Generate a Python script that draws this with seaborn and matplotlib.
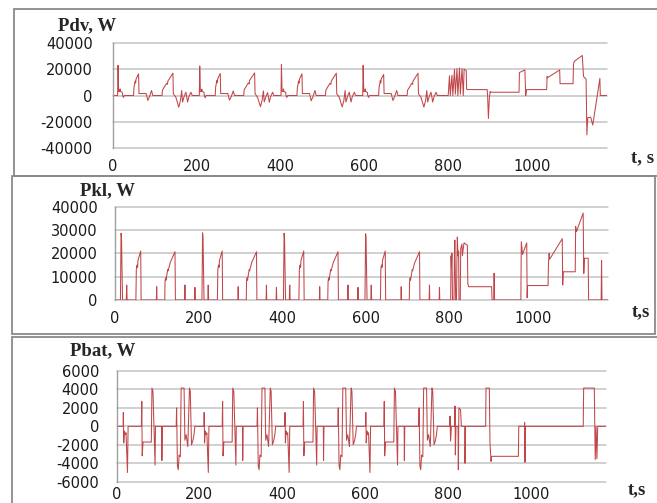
import matplotlib
matplotlib.use('Agg')
import matplotlib.pyplot as plt
import seaborn as sns
from matplotlib.patches import Rectangle

sns.set_style('white')
plt.rcParams['font.family'] = ['DejaVu Sans']

# Data: time in s, power in W (4 urban cycles + extra-urban part)
pdv_t = [0, 11, 12, 13.5, 16, 17, 18, 22, 23, 25, 27, 49, 50, 53, 54, 55, 61, 62, 79, 83, 87, 92, 95,
         117, 118, 122, 128, 130, 131, 143, 144, 150, 157, 161, 164, 166, 170, 174, 178, 181, 186, 189,
         206, 207, 208.5, 211, 212, 213, 217, 218, 220, 222, 244, 245, 248, 249, 250, 256, 257, 274, 278, 282, 287, 290,
         312, 313, 317, 323, 325, 326, 338, 339, 345, 352, 356, 359, 361, 365, 369, 373, 376, 381, 384,
         401, 402, 403.5, 406, 407, 408, 412, 413, 415, 417, 439, 440, 443, 444, 445, 451, 452, 469, 473, 477, 482, 485,
         507, 508, 512, 518, 520, 521, 533, 534, 540, 547, 551, 554, 556, 560, 564, 568, 571, 576, 579,
         596, 597, 598.5, 601, 602, 603, 607, 608, 610, 612, 634, 635, 638, 639, 640, 646, 647, 664, 668, 672, 677, 680,
         702, 703, 707, 713, 715, 716, 728, 729, 735, 742, 746, 749, 751, 755, 759, 763, 766, 771, 774,
         800, 803, 805, 809, 811, 815, 817, 821, 823, 827, 829, 833, 836, 838, 843, 844, 846, 893, 894, 896,
         898, 900, 901, 969, 970, 983, 985, 987, 1035, 1036, 1037, 1066, 1067, 1098, 1099, 1101, 1120, 1123, 1129, 1131,
         1133, 1140, 1145, 1162, 1163, 1180]
pdv_w = [0, 0, 23000, 3000, 3000, 5000, 3000, 2500, 0, -1500, 0, 0, 6000, 11000, 9500, 12500, 16500, 1500, 1500, -3800, -1000, 3800, 0,
         0, 4000, 6300, 9300, 8500, 11000, 17000, 1300, -1300, -8900, -3800, 3800, -5000, -500, 2500, -5000, -1000, 2500, 0,
         0, 22500, 3000, 3200, 4800, 3000, 2500, 0, -1800, 0, 0, 6500, 11500, 9800, 12800, 16800, 1500, 1500, -3500, -1000, 3500, 0,
         0, 4200, 6500, 9500, 8800, 11500, 17200, 1500, -1500, -8500, -3500, 3500, -4800, -800, 2200, -5200, -1000, 2500, 0,
         0, 23500, 3200, 3000, 5000, 3000, 2500, 0, -1500, 0, 0, 6000, 11000, 9500, 12500, 16500, 1500, 1500, -4000, -1000, 3800, 0,
         0, 4000, 6300, 9300, 8500, 11000, 17000, 1300, -1300, -8700, -3800, 3800, -5000, -500, 2500, -5000, -1000, 2500, 0,
         0, 23000, 3000, 3000, 5000, 3000, 2500, 0, -1500, 0, 0, 6000, 11500, 9500, 12500, 16000, 1500, 1500, -3800, -1000, 3800, 0,
         0, 4000, 6000, 9300, 8500, 11000, 17000, 1300, -1300, -8900, -3800, 3800, -5000, -500, 2500, -5000, -1000, 2500, 0,
         0, 15000, 0, 15500, 0, 20000, 1000, 20500, 0, 21000, 1000, 20500, 0, 20000, 19000, 5000, 4500, 4500, 0, -17500,
         -3000, 3000, 2500, 2500, 17500, 19500, 0, 4500, 4500, 14500, 13500, 19500, 9000, 9000, 24000, 26000, 30500, 14500, 12500, -30000,
         -17000, -16500, -22500, 13000, 0, 0]

pkl_t = [0, 13, 14.5, 15.5, 18, 27, 28, 29, 50, 51, 52, 53, 54, 55, 61.5, 62.5, 99, 99.7, 100.5,
         119, 119.7, 121, 122, 126, 127, 132, 143.5, 144.5, 166.5, 167.3, 168, 190.5, 191.2, 192,
         208, 209.5, 210.5, 213, 222, 223, 224, 245, 246, 247, 248, 249, 250, 256.5, 257.5, 294, 294.7, 295.5,
         314, 314.7, 316, 317, 321, 322, 327, 338.5, 339.5, 361.5, 362.3, 363, 385.5, 386.2, 387,
         403, 404.5, 405.5, 408, 417, 418, 419, 440, 441, 442, 443, 444, 445, 451.5, 452.5, 489, 489.7, 490.5,
         509, 509.7, 511, 512, 516, 517, 522, 533.5, 534.5, 556.5, 557.3, 558, 580.5, 581.2, 582,
         598, 599.5, 600.5, 603, 612, 613, 614, 635, 636, 637, 638, 639, 640, 646.5, 647.5, 684, 684.7, 685.5,
         704, 704.7, 706, 707, 711, 712, 717, 728.5, 729.5, 751.5, 752.3, 753, 775.5, 776.2, 777,
         803, 804, 805, 806, 807.5, 811, 812, 813, 815, 817, 818, 819, 820.5, 822, 823, 826, 827, 830, 831, 835,
         843, 844, 846, 901, 902, 906, 907, 908, 971, 972, 975, 985, 986, 987, 1036, 1037, 1038.5, 1040, 1070, 1071,
         1072.5, 1101, 1102, 1104, 1120, 1121.5, 1123, 1132, 1133, 1163, 1164, 1165, 1180]
pkl_w = [0, 0, 28600, 27000, 0, 0, 6400, 0, 0, 13000, 14500, 15000, 14000, 17000, 21000, 0, 0, 5700, 0,
         0, 7900, 9500, 8500, 13000, 12500, 16000, 20700, 0, 0, 6400, 0, 0, 5400, 0,
         0, 28800, 27000, 0, 0, 6400, 0, 0, 13000, 14500, 15000, 14000, 17000, 21000, 0, 0, 5700, 0,
         0, 7900, 9500, 8500, 13000, 12500, 16000, 20700, 0, 0, 6400, 0, 0, 5400, 0,
         0, 28600, 27000, 0, 0, 6400, 0, 0, 13000, 14500, 15000, 14000, 17000, 21000, 0, 0, 5700, 0,
         0, 7900, 9500, 8500, 13000, 12500, 16000, 20700, 0, 0, 6400, 0, 0, 5400, 0,
         0, 28400, 27000, 0, 0, 6400, 0, 0, 13000, 14500, 15000, 14000, 17000, 21000, 0, 0, 5700, 0,
         0, 7900, 9500, 8500, 13000, 12500, 16000, 20700, 0, 0, 6400, 0, 0, 5400, 0,
         0, 19000, 14000, 20000, 0, 0, 18000, 25700, 0, 0, 17000, 27000, 19000, 21000, 0, 0, 22000, 24000, 19000, 24500,
         23500, 7000, 5700, 5700, 0, 0, 11500, 0, 0, 25000, 19500, 24500, 1000, 6200, 6200, 15700, 20000, 17500, 26300, 6400,
         12100, 12100, 31500, 29300, 37300, 11400, 17900, 17900, 0, 0, 17000, 0, 0]

pbat_t = [0, 16, 16.5, 17.5, 19, 21, 23, 26.5, 28, 60, 61, 62, 64, 84, 85.5, 88, 93, 94, 109, 109.5, 110.5,
          144, 145, 147, 149, 151, 154, 156, 163, 165, 168, 172, 176, 178, 181, 184, 187, 189,
          211, 211.5, 212.5, 214, 216, 218, 221.5, 223, 255, 256, 257, 259, 279, 280.5, 283, 288, 289, 304, 304.5, 305.5,
          339, 340, 342, 344, 346, 349, 351, 358, 360, 363, 367, 371, 373, 376, 379, 382, 384,
          406, 406.5, 407.5, 409, 411, 413, 416.5, 418, 450, 451, 452, 454, 474, 475.5, 478, 483, 484, 499, 499.5, 500.5,
          534, 535, 537, 539, 541, 544, 546, 553, 555, 558, 562, 566, 568, 571, 574, 577, 579,
          601, 601.5, 602.5, 604, 606, 608, 611.5, 613, 645, 646, 647, 649, 669, 670.5, 673, 678, 679, 694, 694.5, 695.5,
          729, 730, 732, 734, 736, 739, 741, 748, 750, 753, 757, 761, 763, 766, 769, 772, 774,
          804, 804.6, 806, 808, 816, 816.7, 817.5, 819, 824, 824.7, 826, 830, 832, 840, 840.8, 842, 890.6, 891.5, 899.5, 901,
          903.6, 905, 969.5, 970.5, 984, 984.7, 985.5, 986.5, 1126, 1127, 1152.7, 1155, 1157, 1159, 1161, 1180]
pbat_w = [0, 0, 1500, -1800, -500, -900, -700, -5000, 0, 0, 2700, -3200, -1700, -1700, 4150, 3800, -4200, 0, 0, -3700, 0,
          0, 2000, -4300, -4700, -3100, -3300, 4150, 4150, -1500, -900, -2200, 4150, 3800, -2000, -1600, -900, 0,
          0, 1500, -1800, -500, -900, -700, -5000, 0, 0, 2700, -3200, -1700, -1700, 4150, 3800, -4200, 0, 0, -3700, 0,
          0, 2000, -4300, -4700, -3100, -3300, 4150, 4150, -1500, -900, -2200, 4150, 3800, -2000, -1600, -900, 0,
          0, 1500, -1800, -500, -900, -700, -5000, 0, 0, 2700, -3200, -1700, -1700, 4150, 3800, -4200, 0, 0, -3700, 0,
          0, 2000, -4300, -4700, -3100, -3300, 4150, 4150, -1500, -900, -2200, 4150, 3800, -2000, -1600, -900, 0,
          0, 1500, -1800, -500, -900, -700, -5000, 0, 0, 2700, -3200, -1700, -1700, 4150, 3800, -4200, 0, 0, -3700, 0,
          0, 2000, -4300, -4700, -3100, -3300, 4150, 4150, -1500, -900, -2200, 4150, 3800, -2000, -1600, -900, 0,
          0, 1100, -1600, 0, 0, 2200, -3100, 0, 0, -4700, 2000, 1800, 0, 0, -4000, 0, 0, 4150, 4150, -1800,
          -3800, -3250, -3250, 0, 0, 400, -3900, 0, 0, 4150, 4150, -3600, 0, -3500, 0, 0]

x_ticks = [0, 200, 400, 600, 800, 1000]
pdv_ticks = [-40000, -20000, 0, 20000, 40000]
pkl_ticks = [0, 10000, 20000, 30000, 40000]
pbat_ticks = [-6000, -4000, -2000, 0, 2000, 4000, 6000]

W, H = 657, 503
red = '#C0464A'
fig = plt.figure(figsize=(W / 100, H / 100), dpi=100)

# grey frames around the three chart blocks
for l, t, r, b in [(13.5, 8.5, 670, 175.5), (12, 176.5, 655, 334), (12, 336.5, 670, 520)]:
    fig.patches.append(Rectangle((l / W, 1 - b / H), (r - l) / W, (b - t) / H, transform=fig.transFigure,
                                 fill=False, edgecolor='#8a8a8a', lw=1.3))

panels = [
    (pdv_t, pdv_w, pdv_ticks, (113, 43, 0.419, 148), 'Pdv, W', (58, 30), 't, s', (631, 162), 14.5, 8),
    (pkl_t, pkl_w, pkl_ticks, (115, 206.7, 0.418, 300), 'Pkl, W', (80, 195), 't,s', (632, 316), 12.5, 8),
    (pbat_t, pbat_w, pbat_ticks, (116.5, 371, 0.4145, 481.7), 'Pbat, W', (70, 355), 't,s', (628, 494), 12.5, 4),
]

for t, w, yticks, (left, top, sc, bottom), title, (tx, ty), xl, (xx, xy), ypad, xpad in panels:
    right = left + 1180 * sc
    ax = fig.add_axes([left / W, 1 - bottom / H, (right - left) / W, (bottom - top) / H])
    sns.lineplot(x=t, y=w, ax=ax, color=red, linewidth=0.75, estimator=None, sort=False)
    ax.set_xlim(0, 1180)
    ax.set_ylim(yticks[0], yticks[-1])
    ax.set_xticks(x_ticks)
    ax.set_xticklabels([str(v) for v in x_ticks])
    ax.set_yticks(yticks)
    ax.set_yticklabels([str(v) for v in yticks])
    ax.tick_params(length=0, labelsize=10.5, labelcolor='#1a1a1a')
    ax.tick_params(axis='x', pad=xpad)
    ax.tick_params(axis='y', pad=ypad)
    ax.yaxis.grid(True, color='#c4c4c4', lw=1.1)
    ax.xaxis.grid(False)
    for gl in ax.get_ygridlines():
        gl.set_clip_on(False)
    for s in ['top', 'right', 'bottom']:
        ax.spines[s].set_visible(False)
    ax.spines['left'].set_color('#a0a0a0')
    ax.spines['left'].set_linewidth(1.0)
    ax.set_xlabel('')
    ax.set_ylabel('')
    fig.text(tx / W, 1 - ty / H, title, family='Liberation Serif', weight='bold', fontsize=13.5,
             ha='left', va='baseline')
    fig.text(xx / W, 1 - xy / H, xl, family='Liberation Serif', weight='bold', fontsize=13.5,
             ha='left', va='baseline')

fig.savefig('out.png', dpi=100)
